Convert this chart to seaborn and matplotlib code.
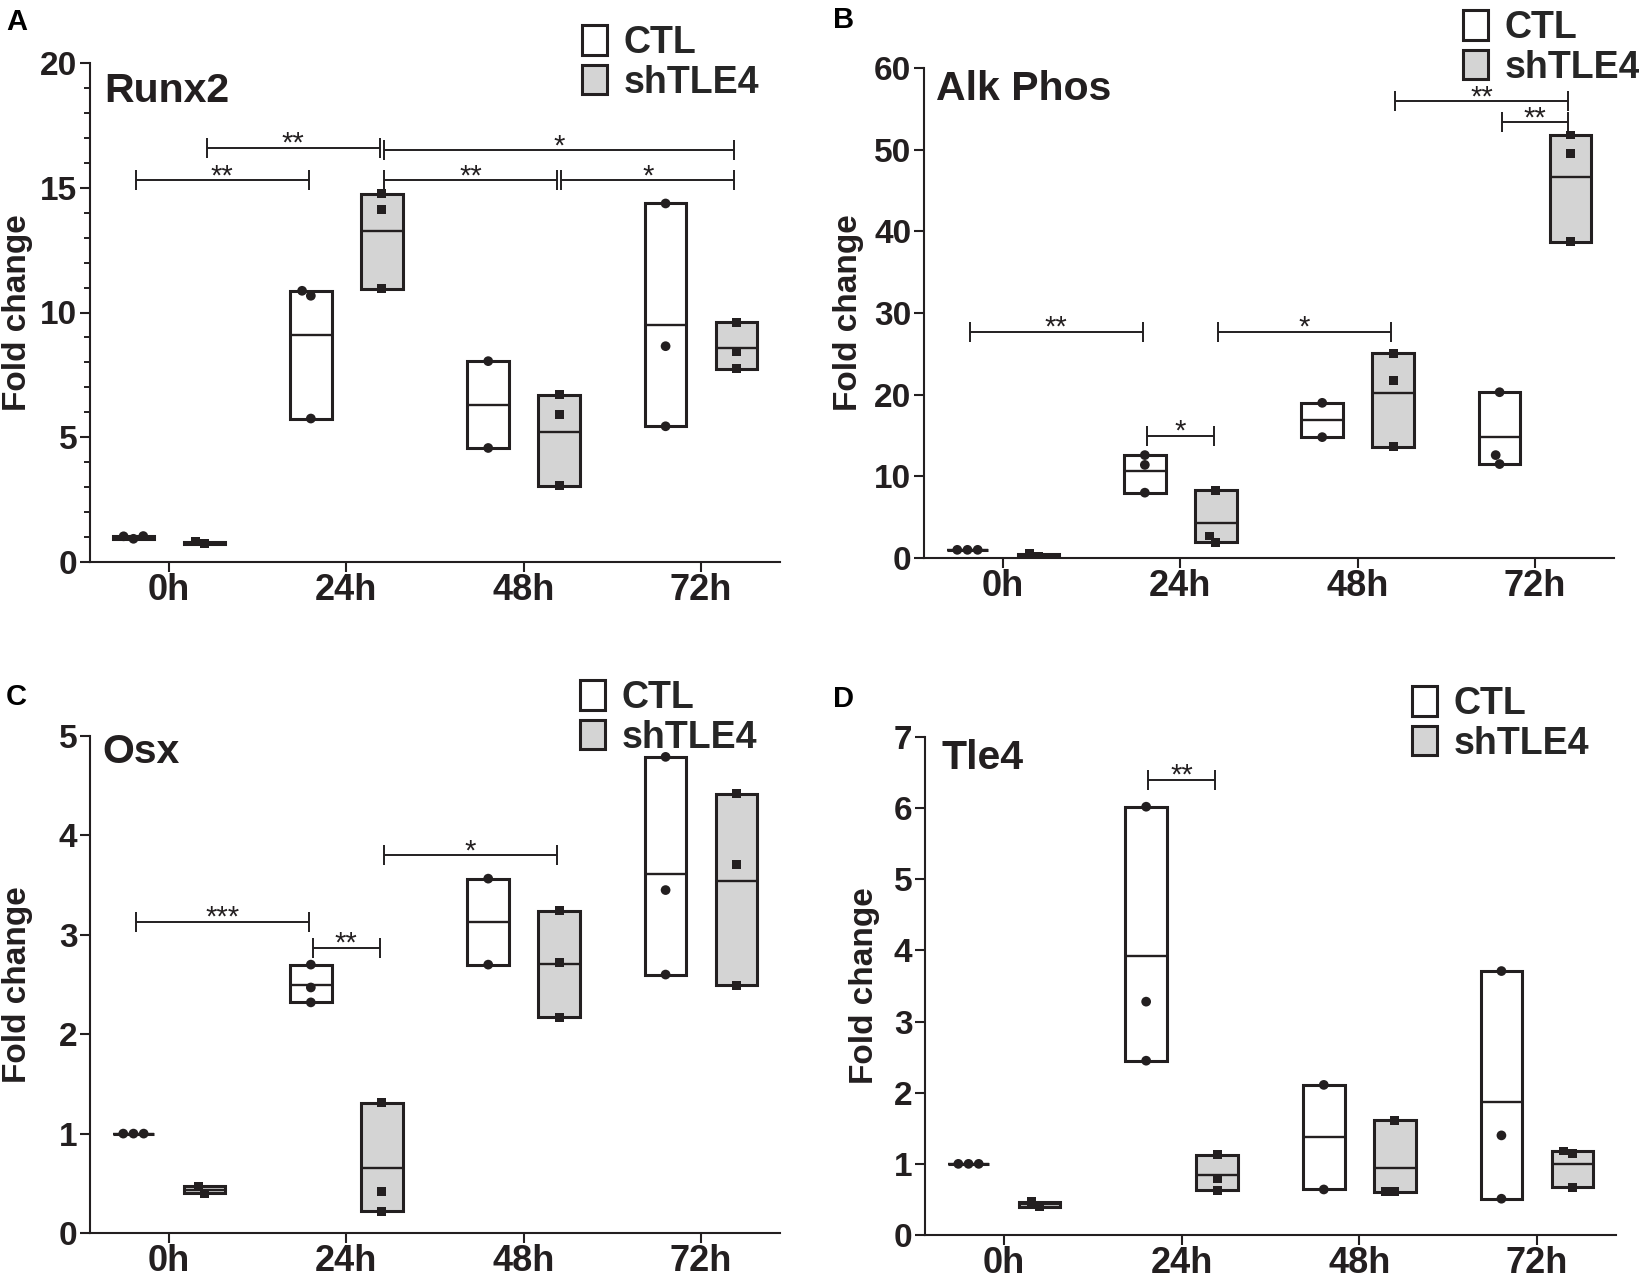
import matplotlib
matplotlib.use('Agg')
import matplotlib.pyplot as plt
from matplotlib.patches import Patch
from matplotlib.ticker import MultipleLocator
import pandas as pd
import seaborn as sns

sns.set_style('ticks')
plt.rcParams['font.family'] = ['Liberation Sans', 'DejaVu Sans']

# ---- data ----
times = ['0h', '24h', '48h', '72h']
groups = ['CTL', 'shTLE4']

runx2_ctl = [[0.93, 1.04, 1.03], [10.87, 10.67, 5.75], [8.05, 4.57], [14.37, 8.65, 5.44]]
runx2_sh = [[0.74, 0.82], [14.76, 14.13, 10.95], [6.70, 5.92, 3.05], [9.60, 8.44, 7.75]]
runx2_sig = [('0h', 'CTL', '24h', 'CTL', 15.3, '**'),
             ('0h', 'shTLE4', '24h', 'shTLE4', 16.6, '**'),
             ('24h', 'shTLE4', '72h', 'shTLE4', 16.5, '*'),
             ('24h', 'shTLE4', '48h', 'shTLE4', 15.3, '**'),
             ('48h', 'shTLE4', '72h', 'shTLE4', 15.3, '*')]

alp_ctl = [[1.0, 1.0, 1.0], [12.6, 11.4, 8.0], [19.0, 14.8], [20.3, 12.6, 11.5]]
alp_sh = [[0.2, 0.5], [8.27, 2.7, 1.94], [25.06, 21.77, 13.6], [51.8, 49.5, 38.75]]
alp_sig = [('0h', 'CTL', '24h', 'CTL', 27.7, '**'),
           ('24h', 'CTL', '24h', 'shTLE4', 15.0, '*'),
           ('24h', 'shTLE4', '48h', 'shTLE4', 27.7, '*'),
           ('48h', 'shTLE4', '72h', 'shTLE4', 55.9, '**'),
           ('72h', 'CTL', '72h', 'shTLE4', 53.4, '**')]

osx_ctl = [[1.0, 1.0, 1.0], [2.70, 2.47, 2.32], [3.565, 2.70], [4.79, 3.45, 2.60]]
osx_sh = [[0.47, 0.40], [1.31, 0.42, 0.22], [3.24, 2.72, 2.17], [4.42, 3.71, 2.49]]
osx_sig = [('0h', 'CTL', '24h', 'CTL', 3.13, '***'),
           ('24h', 'CTL', '24h', 'shTLE4', 2.87, '**'),
           ('24h', 'shTLE4', '48h', 'shTLE4', 3.80, '*')]

tle4_ctl = [[1.0, 1.0, 1.0], [6.02, 3.28, 2.45], [2.11, 0.64], [3.71, 1.40, 0.51]]
tle4_sh = [[0.40, 0.47], [1.13, 0.79, 0.63], [1.61, 0.61, 0.61], [1.18, 1.14, 0.67]]
tle4_sig = [('24h', 'CTL', '24h', 'shTLE4', 6.40, '**')]

INK = '#231f20'
GREY = '#d4d4d4'
W, H = 1640, 1277
OFF = {'CTL': -0.2, 'shTLE4': 0.2}
FILL = {'CTL': 'white', 'shTLE4': GREY}
BOX_W = 0.235


def long_df(ctl, sh):
    rows = []
    for g, series in zip(groups, [ctl, sh]):
        for t, vals in zip(times, series):
            for v in vals:
                rows.append((t, g, v))
    return pd.DataFrame(rows, columns=['time', 'group', 'value'])


def px_rect(l, t, r, b):
    return [l / W, 1 - b / H, (r - l) / W, (b - t) / H]


def bracket(ax, sig, cap):
    for t1, g1, t2, g2, y, lab in sig:
        x1 = times.index(t1) + OFF[g1] + 0.012
        x2 = times.index(t2) + OFF[g2] - 0.012
        ax.plot([x1, x2], [y, y], color=INK, lw=1.4, solid_capstyle='butt', zorder=5)
        ax.vlines([x1, x2], y - cap, y + cap, color=INK, lw=1.4, zorder=5)
        ax.annotate(lab, xy=((x1 + x2) / 2, y), xytext=(0, -3), textcoords='offset points',
                    ha='center', va='baseline', fontsize=21, color=INK)


panels = [
    dict(letter='A', title='Runx2', ctl=runx2_ctl, sh=runx2_sh, sig=runx2_sig,
         rect=(90, 63, 780, 562), ymax=20, step=5, minor=1,
         letter_xy=(6, 30), title_xy=(104, 102), leg_xy=(582, 25), ylab_x=33),
    dict(letter='B', title='Alk Phos', ctl=alp_ctl, sh=alp_sh, sig=alp_sig,
         rect=(924, 68, 1614, 558), ymax=60, step=10, minor=None,
         letter_xy=(833, 28), title_xy=(936, 100), leg_xy=(1463, 10), ylab_x=864),
    dict(letter='C', title='Osx', ctl=osx_ctl, sh=osx_sh, sig=osx_sig,
         rect=(90, 736, 780, 1233), ymax=5, step=1, minor=None,
         letter_xy=(6, 705), title_xy=(102, 763), leg_xy=(580, 680), ylab_x=33),
    dict(letter='D', title='Tle4', ctl=tle4_ctl, sh=tle4_sh, sig=tle4_sig,
         rect=(925, 737, 1616, 1235), ymax=7, step=1, minor=None,
         letter_xy=(833, 707), title_xy=(942, 769), leg_xy=(1412, 686), ylab_x=880),
]

fig = plt.figure(figsize=(W / 100, H / 100), dpi=100)

for p in panels:
    ax = fig.add_axes(px_rect(*p['rect']))
    df = long_df(p['ctl'], p['sh'])

    # individual points
    for g, mk, ms in [('CTL', 'o', 7.0), ('shTLE4', 's', 6.4)]:
        sns.swarmplot(data=df[df.group == g], x='time', y='value', hue='group',
                      order=times, hue_order=groups, dodge=True,
                      palette={'CTL': INK, 'shTLE4': INK}, marker=mk, size=ms,
                      linewidth=0, legend=False, ax=ax, zorder=4)

    # floating bars: min to max, line at mean
    stats = df.groupby(['time', 'group'])['value'].agg(['min', 'max', 'mean'])
    for i, t in enumerate(times):
        for g in groups:
            lo, hi, mu = stats.loc[(t, g)]
            x = i + OFF[g]
            ax.bar(x, hi - lo, bottom=lo, width=BOX_W, facecolor=FILL[g],
                   edgecolor=INK, linewidth=2.2, zorder=2)
            ax.hlines(mu, x - BOX_W / 2, x + BOX_W / 2, color=INK, lw=1.7, zorder=3)

    l, t, r, b = p['rect']
    cap = 10 / (b - t) * p['ymax']
    bracket(ax, p['sig'], cap)

    ax.set_xlim(-0.445, 3.445)
    ax.set_ylim(0, p['ymax'])
    ax.yaxis.set_major_locator(MultipleLocator(p['step']))
    if p['minor']:
        ax.yaxis.set_minor_locator(MultipleLocator(p['minor']))
        ax.tick_params(axis='y', which='minor', length=4, width=1.4, color=INK)
    sns.despine(ax=ax)
    for s in ['left', 'bottom']:
        ax.spines[s].set_linewidth(1.5)
        ax.spines[s].set_color(INK)
    ax.tick_params(axis='both', which='major', length=7, width=1.5, color=INK)
    ax.tick_params(axis='x', pad=1, labelsize=26)
    ax.tick_params(axis='y', pad=2, labelsize=24)
    for lab in ax.get_xticklabels() + ax.get_yticklabels():
        lab.set_fontweight('bold')
        lab.set_color(INK)
    ax.set_xlabel('')
    ax.set_ylabel('Fold change', fontsize=24, fontweight='bold', color=INK)
    ax.yaxis.set_label_coords((p['ylab_x'] - l) / (r - l), 0.5)

    lx, ly = p['letter_xy']
    fig.text(lx / W, 1 - ly / H, p['letter'], fontsize=21, fontweight='bold',
             va='baseline', color='black')
    tx, ty = p['title_xy']
    fig.text(tx / W, 1 - ty / H, p['title'], fontsize=29.5, fontweight='bold',
             va='baseline', color=INK)

    handles = [Patch(facecolor=FILL[g], edgecolor=INK, linewidth=2.2, label=g) for g in groups]
    gx, gy = p['leg_xy']
    ax.legend(handles=handles, loc='upper left', bbox_to_anchor=(gx / W, 1 - gy / H),
              bbox_transform=fig.transFigure, frameon=False, borderpad=0, borderaxespad=0,
              handlelength=0.67, handleheight=0.83, handletextpad=0.43, labelspacing=0.1,
              prop={'size': 27, 'weight': 'bold'})

fig.savefig('out.png', dpi=100)
